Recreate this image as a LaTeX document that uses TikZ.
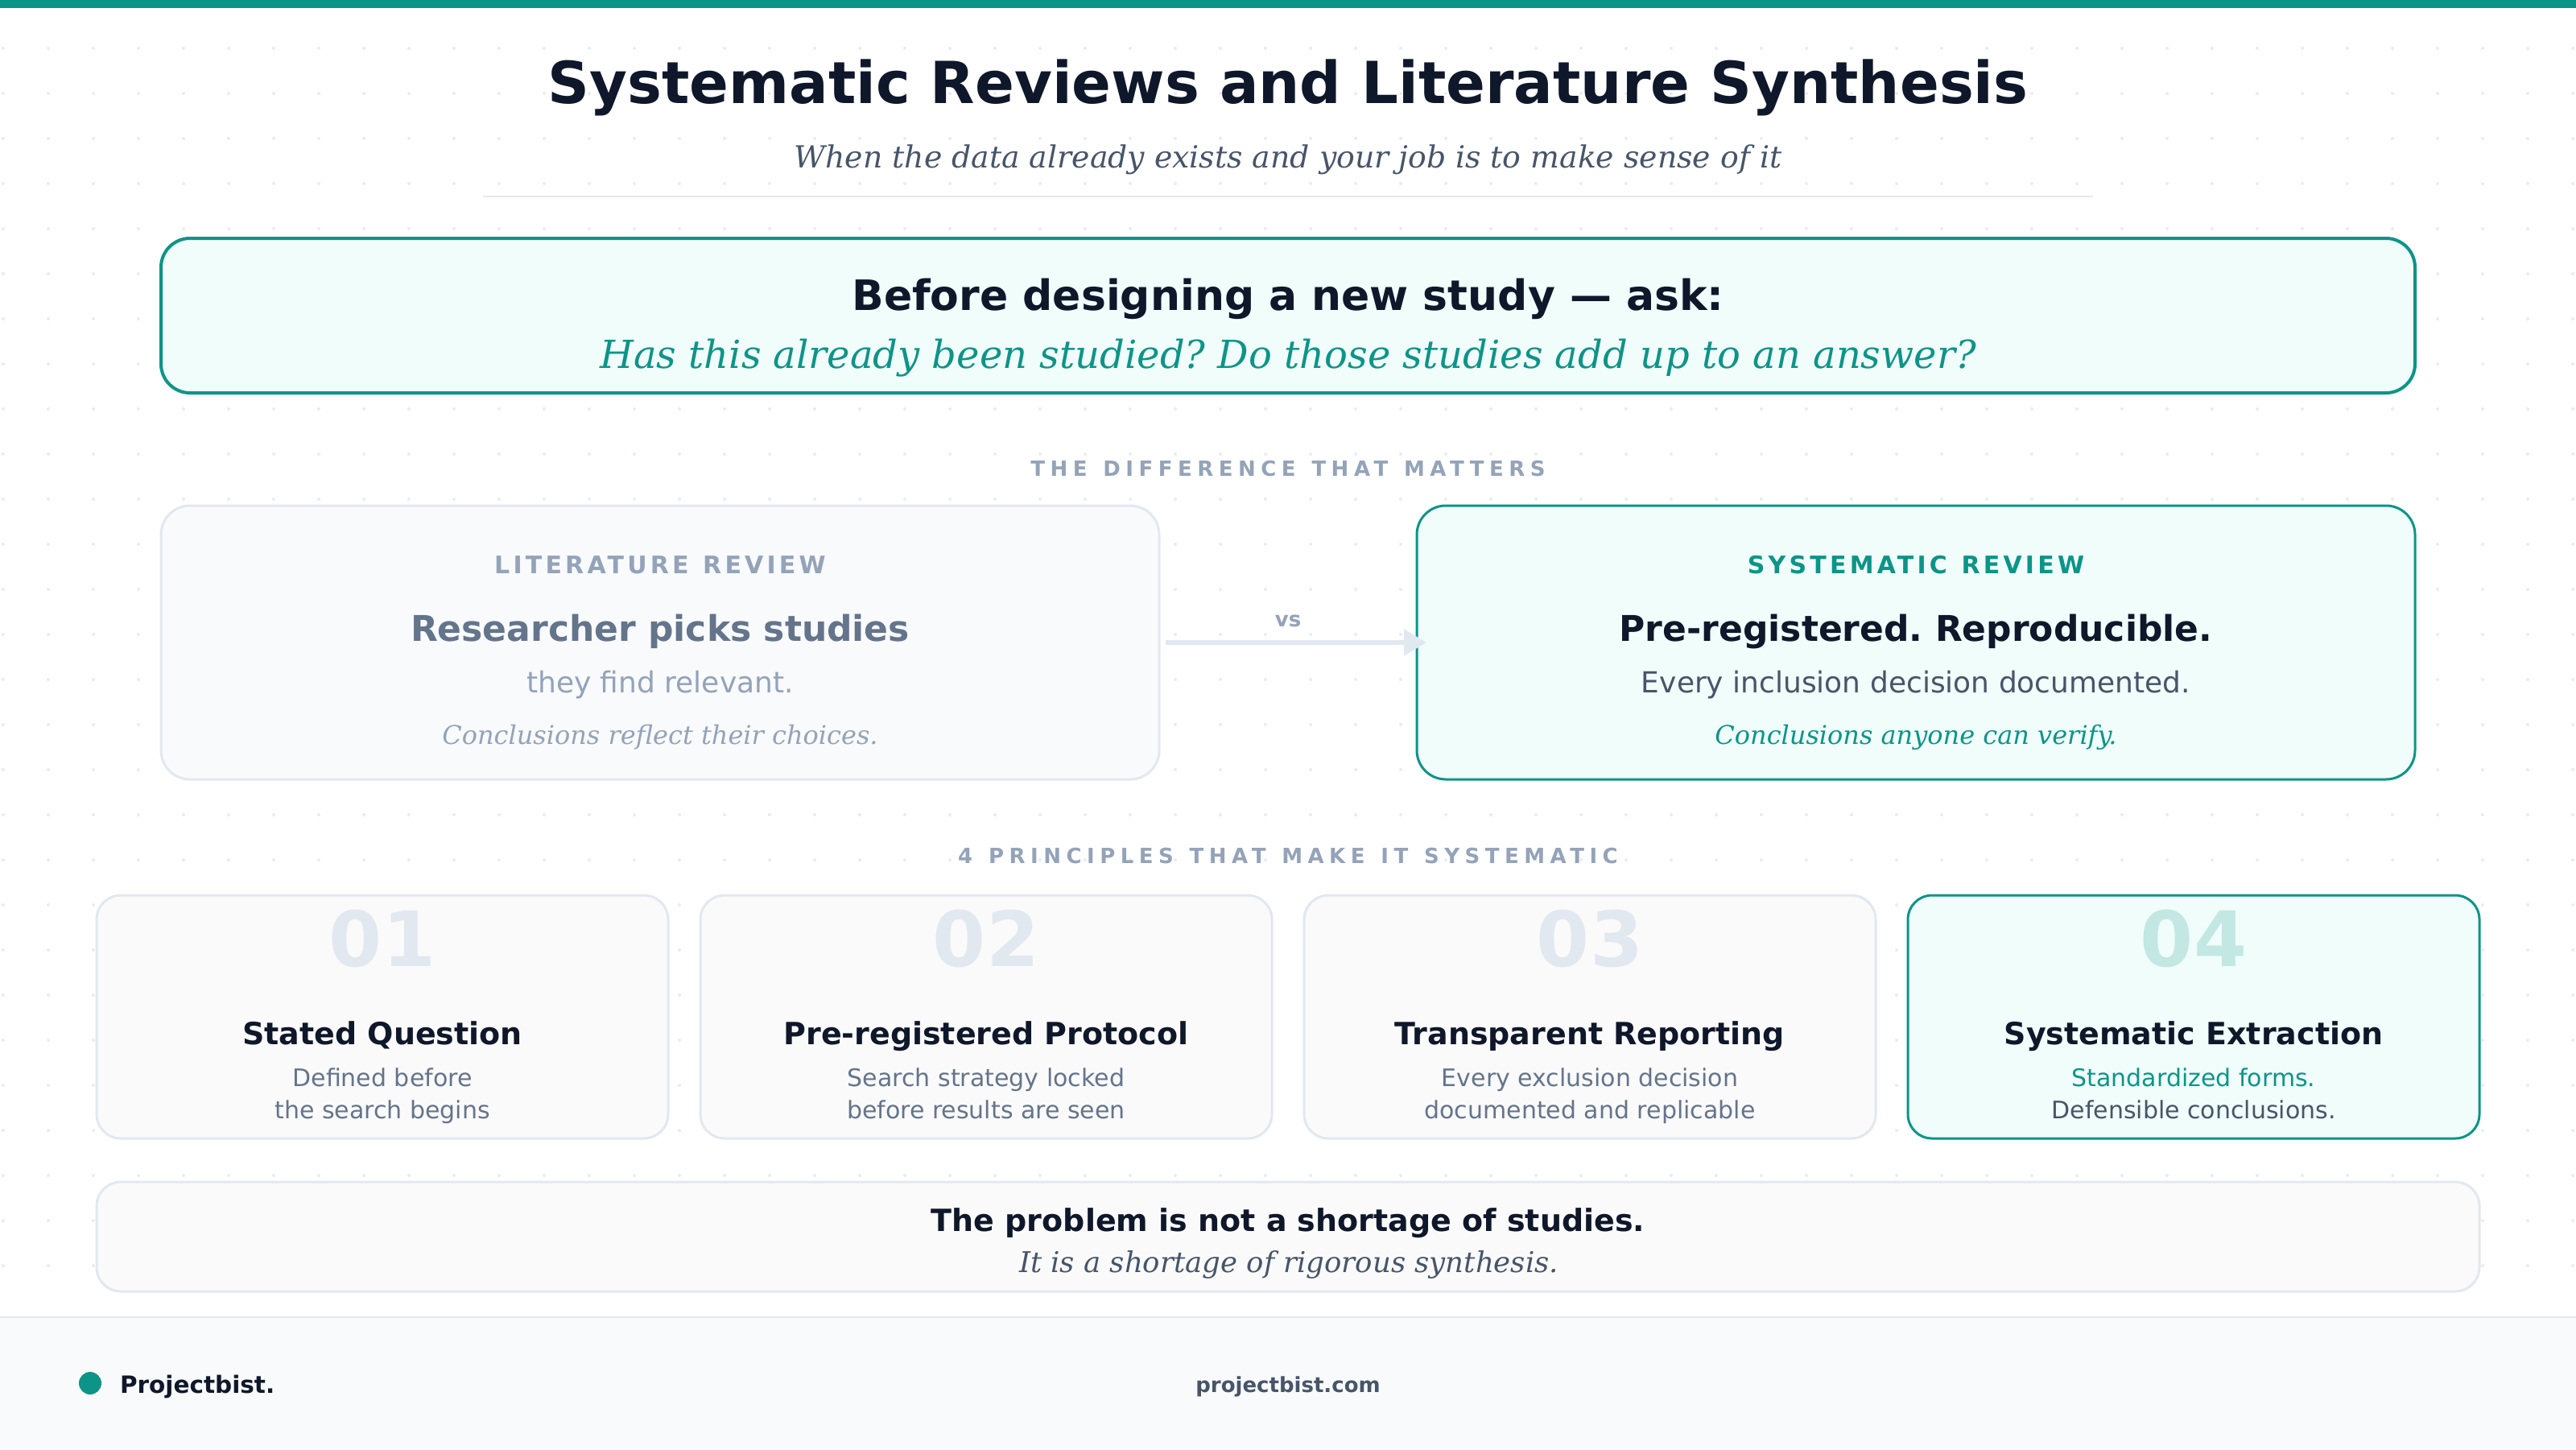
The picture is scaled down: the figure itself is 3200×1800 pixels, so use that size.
\documentclass[tikz,border=0pt]{standalone}
\usepackage{fontspec}
\setmainfont{DejaVu Sans}
\newfontfamily\reviewserif{DejaVu Serif}
\newfontfamily\seclabel[LetterSpace=25,WordSpace=1.27]{DejaVu Sans}
\newfontfamily\cardlabel[LetterSpace=14,WordSpace=1.2]{DejaVu Sans}
\usetikzlibrary{arrows.meta}
\definecolor{teal}{HTML}{0D9488}
\definecolor{tealpale}{HTML}{F0FDFA}
\definecolor{tealnum}{HTML}{C3E7E3}
\definecolor{ink}{HTML}{0F172A}
\definecolor{slatea}{HTML}{475569}
\definecolor{slateb}{HTML}{64748B}
\definecolor{slatec}{HTML}{94A3B8}
\definecolor{edge}{HTML}{E2E8F0}
\definecolor{paper}{HTML}{F8FAFC}
\definecolor{greybox}{HTML}{FAFAFA}
\newcommand{\fsz}[1]{\fontsize{#1}{#1}\selectfont}

\begin{document}
\frenchspacing
\begin{tikzpicture}[
                x=1pt,y=-1pt,
                txt/.style={anchor=base,inner sep=0pt,outer sep=0pt,font=\fsz{#1}},
                txt/.default=32,
                bigbox/.style={draw=teal,fill=tealpale,line width=4pt,rounded corners=36pt,anchor=north west,outer sep=0pt,inner sep=0pt},
                palebox/.style={draw=edge,fill=paper,line width=3pt,rounded corners=36pt,anchor=north west,outer sep=0pt,inner sep=0pt},
                pcard/.style={draw=edge,fill=greybox,line width=3pt,rounded corners=30pt,anchor=north west,outer sep=0pt,inner sep=0pt,minimum width=710pt,minimum height=302pt},
                pcardon/.style={pcard,draw=teal,fill=tealpale},
                arrowline/.style={-{Triangle[length=28pt,width=32pt]},draw=edge,line width=6pt}]

                    \useasboundingbox (0,0) rectangle (3200,1800);
                    \fill[white] (0,0) rectangle (3200,1800);

                    % dots
                    \foreach \i in {0,...,57}
                        \foreach \j in {1,...,28}
                            \fill[edge,opacity=.8] (4+56*\i,4+56*\j) circle (2pt);

                    % top
                    \fill[teal] (0,0) rectangle (3200,10);
                    \node[txt=72,text=ink] (TitleText) at (1600,128) {\bfseries Systematic Reviews and Literature Synthesis};
                    \node[txt=37.8,text=slatea] (SubtitleText) at (1600,208) {\reviewserif\itshape When the data already exists and your job is to make sense of it};
                    \coordinate (RuleA) at (600,244);
                    \coordinate (RuleB) at (2600,244);
                    \draw[edge,line width=2pt] (RuleA) -- (RuleB);

                    % callout
                    \node[bigbox,minimum width=2800pt,minimum height=192pt] (AskBox) at (200,296) {};
                    \node[txt=52,text=ink] (AskA) at (1600,385) {\bfseries Before designing a new study --- ask:};
                    \node[txt=48,text=teal] (AskB) at (1600,457) {\reviewserif\itshape Has this already been studied? Do those studies add up to an answer?};

                    % difference
                    \node[txt=26,text=slatec] (DiffLabel) at (1600,591) {\seclabel\bfseries THE DIFFERENCE THAT MATTERS};

                    \node[palebox,minimum width=1240pt,minimum height=340pt] (LitCard) at (200,628) {};
                    \node[txt=30,text=slatec] (LitA) at (820,712) {\cardlabel\bfseries LITERATURE REVIEW};
                    \node[txt=44,text=slateb] (LitB) at (820,796) {\bfseries Researcher picks studies};
                    \node[txt=36,text=slatec] (LitC) at (820,860) {they find relevant.};
                    \node[txt=32,text=slatec] (LitD) at (820,924) {\reviewserif\itshape Conclusions reflect their choices.};

                    \node[bigbox,line width=3pt,minimum width=1240pt,minimum height=340pt] (SysCard) at (1760,628) {};
                    \node[txt=30,text=teal] (SysA) at (2380,712) {\cardlabel\bfseries SYSTEMATIC REVIEW};
                    \node[txt=44,text=ink] (SysB) at (2380,796) {\bfseries Pre-registered. Reproducible.};
                    \node[txt=36,text=slatea] (SysC) at (2380,860) {Every inclusion decision documented.};
                    \node[txt=32,text=teal] (SysD) at (2380,924) {\reviewserif\itshape Conclusions anyone can verify.};

                    \node[txt=26,text=slatec] (VsLabel) at (1600,778) {\bfseries vs};
                    \draw[arrowline] ([xshift=8pt]LitCard.east) -- ([xshift=12pt]SysCard.west);

                    % principles
                    \node[txt=26,text=slatec] (PrincLabel) at (1600,1072) {\seclabel\bfseries 4 PRINCIPLES THAT MAKE IT SYSTEMATIC};

                    \node[pcard] (CardA) at (120,1112) {}; % 1
                    \node[txt=95,text=edge] (NumA) at (475,1200) {\bfseries 01};
                    \node[txt=38,text=ink] (HeadA) at (475,1297) {\bfseries Stated Question};
                    \node[txt=30,text=slateb] (LineA1) at (475,1349) {Defined before};
                    \node[txt=30,text=slateb] (LineA2) at (475,1389) {the search begins};

                    \node[pcard] (CardB) at (870,1112) {}; % 2
                    \node[txt=95,text=edge] (NumB) at (1225,1200) {\bfseries 02};
                    \node[txt=38,text=ink] (HeadB) at (1225,1297) {\bfseries Pre-registered Protocol};
                    \node[txt=30,text=slateb] (LineB1) at (1225,1349) {Search strategy locked};
                    \node[txt=30,text=slateb] (LineB2) at (1225,1389) {before results are seen};

                    \node[pcard] (CardC) at (1620,1112) {}; % 3
                    \node[txt=95,text=edge] (NumC) at (1975,1200) {\bfseries 03};
                    \node[txt=38,text=ink] (HeadC) at (1975,1297) {\bfseries Transparent Reporting};
                    \node[txt=30,text=slateb] (LineC1) at (1975,1349) {Every exclusion decision};
                    \node[txt=30,text=slateb] (LineC2) at (1975,1389) {documented and replicable};

                    \node[pcardon] (CardD) at (2370,1112) {}; % 4
                    \node[txt=95,text=tealnum] (NumD) at (2725,1200) {\bfseries 04};
                    \node[txt=38,text=ink] (HeadD) at (2725,1297) {\bfseries Systematic Extraction};
                    \node[txt=30,text=teal] (LineD1) at (2725,1349) {Standardized forms.};
                    \node[txt=30,text=slatea] (LineD2) at (2725,1389) {Defensible conclusions.};

                    % bottom line
                    \node[pcard,minimum width=2960pt,minimum height=136pt] (ProblemBox) at (120,1468) {};
                    \node[txt=38,text=ink] (ProblemA) at (1600,1529) {\bfseries The problem is not a shortage of studies.};
                    \node[txt=35.5,text=slatea] (ProblemB) at (1601,1580) {\reviewserif\itshape It is a shortage of rigorous synthesis.};

                    % footer
                    \fill[paper] (0,1636) rectangle (3200,1800);
                    \draw[edge,line width=2pt] (0,1636) -- (3200,1636);
                    \node[circle,fill=teal,minimum size=28pt,inner sep=0pt,outer sep=0pt] (BrandDot) at (112,1718) {};
                    \node[txt=29.5,text=ink,anchor=base west] (BrandText) at (149,1730) {\bfseries Projectbist.};
                    \node[txt=26,text=slatea] (SiteText) at (1600,1729) {\bfseries projectbist.com};

                    \end{tikzpicture}
\end{document}
